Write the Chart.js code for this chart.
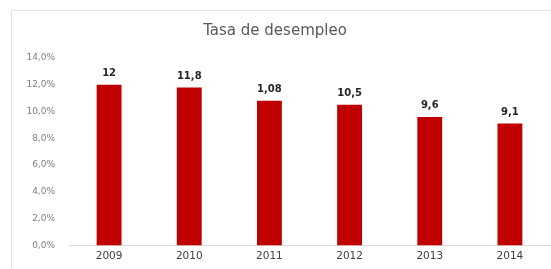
<!DOCTYPE html>
<html>
<head>
<meta charset="utf-8">
<script src="https://cdn.jsdelivr.net/npm/chart.js@4.4.1/dist/chart.umd.min.js"></script>
<style>
html,body{margin:0;padding:0;background:#fff;}
#wrap{width:551px;height:269px;position:relative;}
</style>
</head>
<body>
<div id="wrap"><canvas id="c" width="551" height="269"></canvas></div>
<script>
const categories = ['2009','2010','2011','2012','2013','2014'];
const values = [12, 11.8, 10.8, 10.5, 9.6, 9.1];
const valueLabels = ['12','11,8','1,08','10,5','9,6','9,1'];
const yTicks = [0, 2, 4, 6, 8, 10, 12, 14];
const chartTitle = 'Tasa de desempleo';

const FONT = '"DejaVu Sans", Verdana, sans-serif';

const framePlugin = {
  id: 'frame',
  beforeDraw(chart) {
    const ctx = chart.ctx;
    ctx.save();
    ctx.strokeStyle = '#e3e3e3';
    ctx.lineWidth = 1;
    ctx.beginPath();
    ctx.moveTo(11.5, chart.height);
    ctx.lineTo(11.5, 10.5);
    ctx.lineTo(chart.width, 10.5);
    ctx.stroke();
    ctx.restore();
  }
};

const labelPlugin = {
  id: 'valLabels',
  afterDatasetsDraw(chart) {
    const ctx = chart.ctx;
    const meta = chart.getDatasetMeta(0);
    ctx.save();
    ctx.font = 'bold 10px ' + FONT;
    ctx.fillStyle = '#262626';
    ctx.textAlign = 'center';
    ctx.textBaseline = 'bottom';
    meta.data.forEach((bar, i) => {
      ctx.fillText(valueLabels[i], bar.x, bar.y - 6);
    });
    ctx.restore();
  }
};

new Chart(document.getElementById('c'), {
  type: 'bar',
  data: {
    labels: categories,
    datasets: [{
      data: values,
      backgroundColor: '#c00000',
      borderWidth: 0,
      categoryPercentage: 1,
      barPercentage: 0.31
    }]
  },
  options: {
    responsive: false,
    animation: false,
    layout: { padding: { left: 0, right: 1, top: 0, bottom: 1 } },
    plugins: {
      legend: { display: false },
      tooltip: { enabled: false },
      title: {
        display: true,
        text: chartTitle,
        color: '#595959',
        font: { family: FONT, size: 15, weight: 'normal' },
        padding: { top: 22, bottom: 18 }
      }
    },
    scales: {
      x: {
        grid: { display: false, drawTicks: false },
        border: { display: true, color: '#d9d9d9', width: 1 },
        ticks: { color: '#404040', font: { family: FONT, size: 10.5 }, padding: 5 }
      },
      y: {
        min: 0,
        max: 14,
        afterBuildTicks(scale) { scale.ticks = yTicks.map(v => ({ value: v })); },
        afterFit(scale) { scale.width = 69; },
        grid: { display: false, drawTicks: false },
        border: { display: false },
        ticks: {
          color: '#7f7f7f',
          font: { family: FONT, size: 9 },
          padding: 14,
          callback: (v) => v.toFixed(1).replace('.', ',') + '%'
        }
      }
    }
  },
  plugins: [framePlugin, labelPlugin]
});
</script>
</body>
</html>
